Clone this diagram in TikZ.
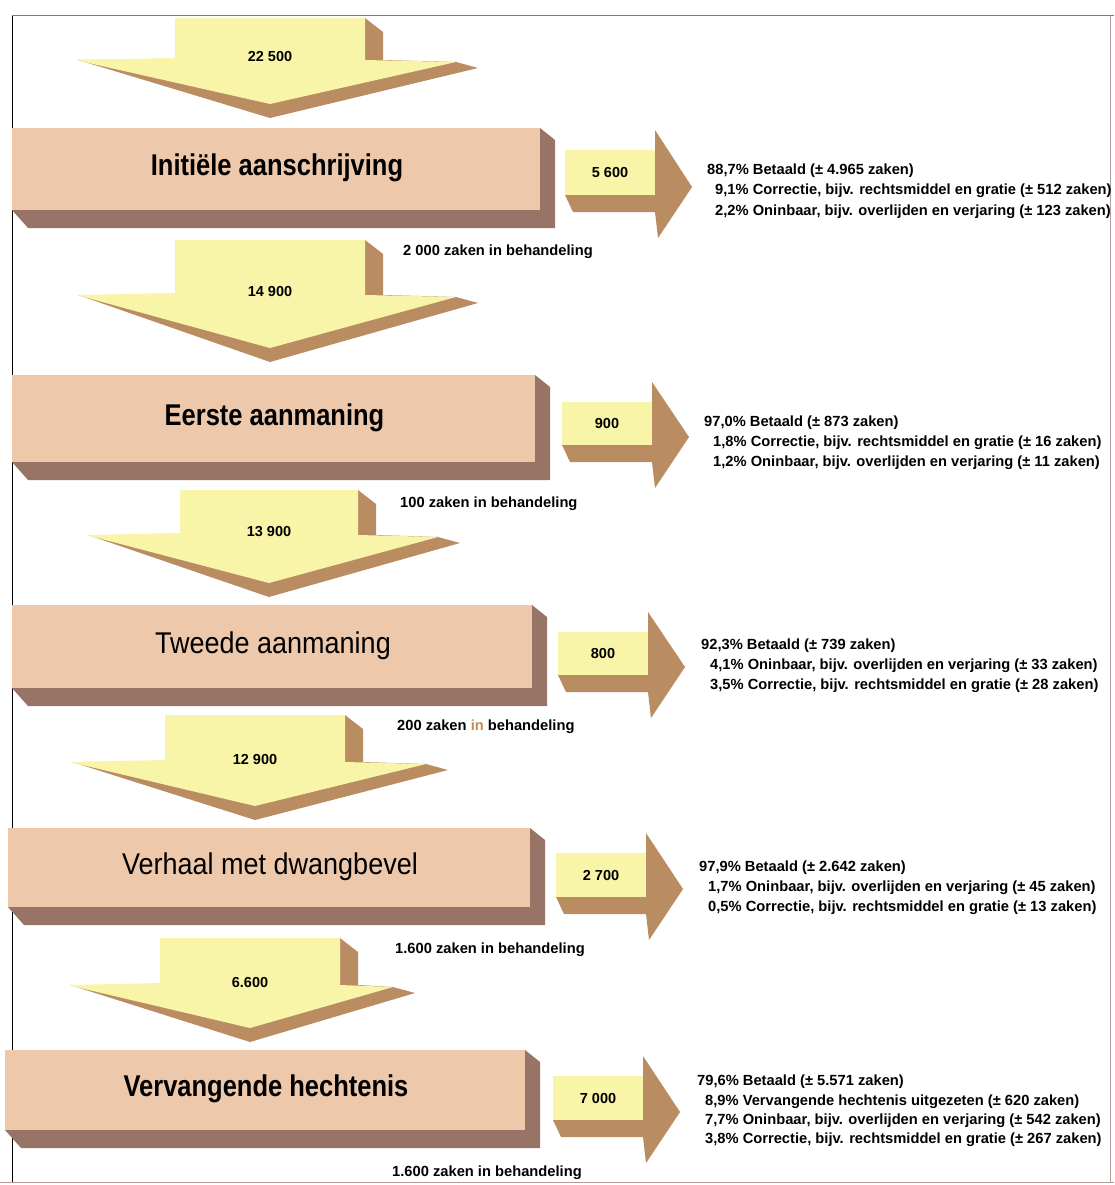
\documentclass[tikz,border=0pt]{standalone}
\usepackage{fontspec}
\setmainfont{Liberation Sans}
\newfontfamily\titleB{Liberation Sans}[FakeStretch=0.85]
\newfontfamily\titleR{Liberation Sans}[FakeStretch=0.9]
\definecolor{arryel}{RGB}{249,245,168}
\definecolor{arrbrn}{RGB}{186,140,98}
\definecolor{boxface}{RGB}{237,200,170}
\definecolor{boxslab}{RGB}{152,116,102}
\definecolor{framec}{RGB}{140,120,105}
\definecolor{inbrn}{RGB}{200,140,90}
\tikzset{
  small/.style={font=\fontsize{14.7}{17}\selectfont\bfseries, inner sep=0pt},
  numlab/.style={font=\fontsize{14.5}{17}\selectfont\bfseries, inner sep=0pt},
  ttlB/.style={font=\titleB\fontsize{30}{34}\selectfont\bfseries, inner sep=0pt},
  ttlR/.style={font=\titleR\fontsize{30}{34}\selectfont, inner sep=0pt},
}
% down arrow: name, L, R, T, S, HL, HR, TY, label
\newcommand{\downarr}[9]{%
  \fill[arrbrn] (#6,#5) -- ({(#2+#3)/2},#8) -- (#7,{#5+8}) -- ({#7-22},{#5+2})
     -- ({#3+18},#5) -- ({#3+18},{#4+14}) -- (#3,#4) -- (#3,#5) -- cycle;
  \fill[arryel] (#2,#4) -- (#3,#4) -- (#3,#5) -- ({#7-22},{#5+2})
     -- ({(#2+#3)/2},{#8-14}) -- ({#6+6},{#5+2}) -- (#6,#5) -- (#2,{#5-2}) -- cycle;
  \node[numlab] (#1) at ({(#2+#3)/2},{#5-3}) {#9};
}
% right arrow: name, X0, X1, Y0, Y1, label
\newcommand{\rightarr}[6]{%
  \fill[arrbrn] (#2,#5) -- (#3,#5) -- (#3,{#5+17}) -- ({#2+8},{#5+17}) -- cycle;
  \fill[arrbrn] (#3,{#4-20}) -- ({#3+37},{#5-8}) -- ({#3+3},{#5+43}) -- (#3,{#5+17}) -- cycle;
  \fill[arryel] (#2,#4) rectangle (#3,#5);
  \node[numlab] (#1) at ({(#2+#3)/2},{(#4+#5)/2}) {#6};
}
% box: name, X0, X1, Y0, Y1, style, text
\newcommand{\stagebox}[7]{%
  \fill[boxslab] (#2,#5) -- ({#2+16},{#5+18}) -- ({#3+15},{#5+18}) -- ({#3+15},{#4+12}) -- (#3,#4) -- (#3,#5) -- cycle;
  \fill[boxface] (#2,#4) rectangle (#3,#5);
  \node[#6] (#1) at ({(#2+#3)/2+1},{(#4+#5)/2-1}) {#7};
}
\begin{document}
\begin{tikzpicture}[x=1pt,y=-1pt]
\fill[white] (0,0) rectangle (1114,1185);
\useasboundingbox (0,0) rectangle (1114,1185);
% frame
\draw[framec, line width=1pt] (12,16) -- (1114,16);
\draw[black, line width=1pt] (12,16) -- (12,1182);
\draw[framec!70, line width=0.6pt] (0,1182) -- (1114,1182);
\draw[framec!70, line width=0.6pt] (1110,16) -- (1110,1182);

% down arrows
\downarr{a1}{175}{365}{18}{60}{78}{478}{118}{22 500}
\downarr{a2}{175}{365}{240}{295}{78}{478}{362}{14 900}
\downarr{a3}{180}{358}{490}{535}{88}{460}{597}{13 900}
\downarr{a4}{165}{345}{715}{762}{72}{448}{820}{12 900}
\downarr{a5}{160}{340}{938}{985}{70}{415}{1042}{6.600}

% stage boxes
\stagebox{s1}{12}{540}{128}{210}{ttlB}{Initiële aanschrijving}
\stagebox{s2}{12}{535}{375}{462}{ttlB}{Eerste aanmaning}
\stagebox{s3}{12}{532}{605}{688}{ttlR}{Tweede aanmaning}
\stagebox{s4}{8}{530}{828}{907}{ttlR}{Verhaal met dwangbevel}
\stagebox{s5}{5}{525}{1050}{1130}{ttlB}{Vervangende hechtenis}

% right arrows
\rightarr{r1}{565}{655}{150}{195}{5 600}
\rightarr{r2}{562}{652}{402}{445}{900}
\rightarr{r3}{558}{648}{632}{675}{800}
\rightarr{r4}{556}{646}{853}{897}{2 700}
\rightarr{r5}{553}{643}{1076}{1120}{7 000}

% in behandeling
\node[small, anchor=base west] (h1) at (403,255) {2 000 zaken in behandeling};
\node[small, anchor=base west] (h2) at (400,507) {100 zaken in behandeling};
\node[small, anchor=base west] (h3) at (397,730) {200 zaken \textcolor{inbrn}{in} behandeling};
\node[small, anchor=base west] (h4) at (395,953) {1.600 zaken in behandeling};
\node[small, anchor=base west] (h5) at (392,1176) {1.600 zaken in behandeling};

% outcome texts
\node[small, anchor=base west] (o1a) at (707,175) {88,7\% Betaald (± 4.965 zaken)};
\node[small, anchor=base west] (o1b) at (715,195) {9,1\% Correctie, bijv. rechtsmiddel en gratie (± 512 zaken)};
\node[small, anchor=base west] (o1c) at (715,215) {2,2\% Oninbaar, bijv. overlijden en verjaring (± 123 zaken)};

\node[small, anchor=base west] (o2a) at (704,426) {97,0\% Betaald (± 873 zaken)};
\node[small, anchor=base west] (o2b) at (713,446) {1,8\% Correctie, bijv. rechtsmiddel en gratie (± 16 zaken)};
\node[small, anchor=base west] (o2c) at (713,466) {1,2\% Oninbaar, bijv. overlijden en verjaring (± 11 zaken)};

\node[small, anchor=base west] (o3a) at (701,649) {92,3\% Betaald (± 739 zaken)};
\node[small, anchor=base west] (o3b) at (710,669) {4,1\% Oninbaar, bijv. overlijden en verjaring (± 33 zaken)};
\node[small, anchor=base west] (o3c) at (710,689) {3,5\% Correctie, bijv. rechtsmiddel en gratie (± 28 zaken)};

\node[small, anchor=base west] (o4a) at (699,871) {97,9\% Betaald (± 2.642 zaken)};
\node[small, anchor=base west] (o4b) at (708,891) {1,7\% Oninbaar, bijv. overlijden en verjaring (± 45 zaken)};
\node[small, anchor=base west] (o4c) at (708,911) {0,5\% Correctie, bijv. rechtsmiddel en gratie (± 13 zaken)};

\node[small, anchor=base west] (o5a) at (697,1085) {79,6\% Betaald (± 5.571 zaken)};
\node[small, anchor=base west] (o5b) at (705,1105) {8,9\% Vervangende hechtenis uitgezeten (± 620 zaken)};
\node[small, anchor=base west] (o5c) at (705,1124) {7,7\% Oninbaar, bijv. overlijden en verjaring (± 542 zaken)};
\node[small, anchor=base west] (o5d) at (705,1143) {3,8\% Correctie, bijv. rechtsmiddel en gratie (± 267 zaken)};
\end{tikzpicture}
\end{document}
